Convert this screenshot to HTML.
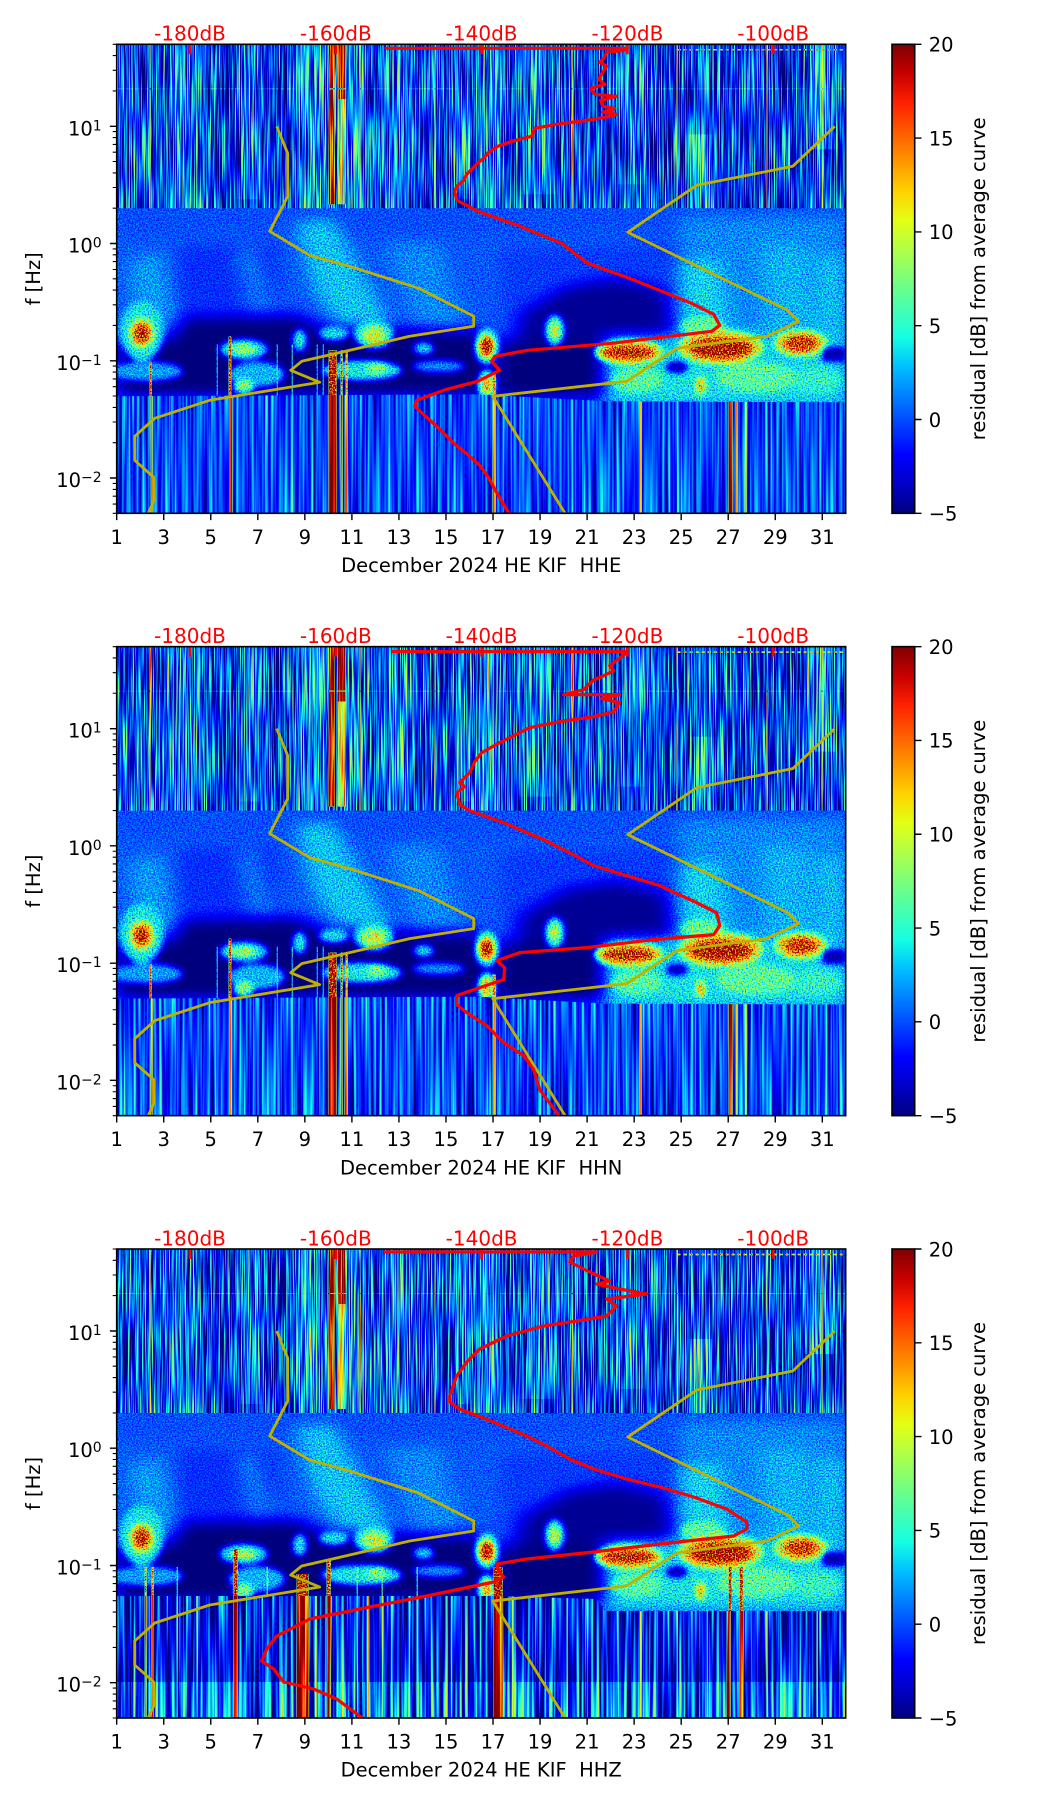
<!DOCTYPE html>
<html><head><meta charset="utf-8"><style>
html,body{margin:0;padding:0;background:#fff;}
svg{display:block;}
text{font-family:"DejaVu Sans","Liberation Sans",sans-serif;font-size:19.5px;fill:#000;}
</style></head><body>
<svg width="1052" height="1806" viewBox="0 0 1052 1806" xmlns="http://www.w3.org/2000/svg">
<defs>
<linearGradient id="jetG" x1="0" y1="0" x2="0" y2="1">
<stop offset="0" stop-color="rgb(128,0,0)"/><stop offset="0.0625" stop-color="rgb(199,0,0)"/>
<stop offset="0.125" stop-color="rgb(255,33,0)"/><stop offset="0.1875" stop-color="rgb(255,92,0)"/>
<stop offset="0.25" stop-color="rgb(255,150,0)"/><stop offset="0.3125" stop-color="rgb(255,209,0)"/>
<stop offset="0.375" stop-color="rgb(227,255,20)"/><stop offset="0.4375" stop-color="rgb(176,255,71)"/>
<stop offset="0.5" stop-color="rgb(122,255,122)"/><stop offset="0.5625" stop-color="rgb(71,255,176)"/>
<stop offset="0.625" stop-color="rgb(20,255,227)"/><stop offset="0.6875" stop-color="rgb(0,191,255)"/>
<stop offset="0.75" stop-color="rgb(0,128,255)"/><stop offset="0.8125" stop-color="rgb(0,64,255)"/>
<stop offset="0.875" stop-color="rgb(0,0,255)"/><stop offset="0.9375" stop-color="rgb(0,0,199)"/>
<stop offset="1" stop-color="rgb(0,0,128)"/>
</linearGradient>

<filter id="bl" filterUnits="userSpaceOnUse" x="-30" y="100" width="790" height="400" color-interpolation-filters="sRGB"><feGaussianBlur stdDeviation="3"/></filter>
<filter id="blBig" filterUnits="userSpaceOnUse" x="-30" y="100" width="790" height="400" color-interpolation-filters="sRGB"><feGaussianBlur stdDeviation="9 7"/></filter>
<filter id="blTop" filterUnits="userSpaceOnUse" x="-30" y="-30" width="790" height="260" color-interpolation-filters="sRGB"><feGaussianBlur stdDeviation="4 0"/></filter>

<filter id="fT1" filterUnits="userSpaceOnUse" x="0" y="0" width="729" height="470" color-interpolation-filters="sRGB">
<feTurbulence type="fractalNoise" baseFrequency="0.8 0.014" numOctaves="2" seed="2"/>
<feColorMatrix type="matrix" values="0 0 0 1 0 0 0 0 1 0 0 0 0 1 0 0 0 0 0 1" result="g"/>
<feComposite in="SourceGraphic" in2="g" operator="arithmetic" k1="0" k2="1" k3="1.35" k4="-0.675"/>
<feComponentTransfer><feFuncR type="table" tableValues="0 0 0 0 0 0 0.08 0.28 0.48 0.69 0.89 1 1 1 1 0.78 0.5"/><feFuncG type="table" tableValues="0 0 0 0.25 0.5 0.75 1 1 1 1 1 0.82 0.59 0.36 0.13 0 0"/><feFuncB type="table" tableValues="0.5 0.78 1 1 1 1 0.89 0.69 0.48 0.28 0.08 0 0 0 0 0 0"/></feComponentTransfer>
</filter>
<filter id="fT2" filterUnits="userSpaceOnUse" x="0" y="0" width="729" height="470" color-interpolation-filters="sRGB">
<feTurbulence type="fractalNoise" baseFrequency="0.8 0.014" numOctaves="2" seed="7"/>
<feColorMatrix type="matrix" values="0 0 0 1 0 0 0 0 1 0 0 0 0 1 0 0 0 0 0 1" result="g"/>
<feComposite in="SourceGraphic" in2="g" operator="arithmetic" k1="0" k2="1" k3="1.35" k4="-0.675"/>
<feComponentTransfer><feFuncR type="table" tableValues="0 0 0 0 0 0 0.08 0.28 0.48 0.69 0.89 1 1 1 1 0.78 0.5"/><feFuncG type="table" tableValues="0 0 0 0.25 0.5 0.75 1 1 1 1 1 0.82 0.59 0.36 0.13 0 0"/><feFuncB type="table" tableValues="0.5 0.78 1 1 1 1 0.89 0.69 0.48 0.28 0.08 0 0 0 0 0 0"/></feComponentTransfer>
</filter>
<filter id="fT3" filterUnits="userSpaceOnUse" x="0" y="0" width="729" height="470" color-interpolation-filters="sRGB">
<feTurbulence type="fractalNoise" baseFrequency="0.8 0.014" numOctaves="2" seed="13"/>
<feColorMatrix type="matrix" values="0 0 0 1 0 0 0 0 1 0 0 0 0 1 0 0 0 0 0 1" result="g"/>
<feComposite in="SourceGraphic" in2="g" operator="arithmetic" k1="0" k2="1" k3="1.35" k4="-0.675"/>
<feComponentTransfer><feFuncR type="table" tableValues="0 0 0 0 0 0 0.08 0.28 0.48 0.69 0.89 1 1 1 1 0.78 0.5"/><feFuncG type="table" tableValues="0 0 0 0.25 0.5 0.75 1 1 1 1 1 0.82 0.59 0.36 0.13 0 0"/><feFuncB type="table" tableValues="0.5 0.78 1 1 1 1 0.89 0.69 0.48 0.28 0.08 0 0 0 0 0 0"/></feComponentTransfer>
</filter>

<filter id="fM1" filterUnits="userSpaceOnUse" x="0" y="0" width="729" height="470" color-interpolation-filters="sRGB">
<feTurbulence type="fractalNoise" baseFrequency="0.7" numOctaves="2" seed="3"/>
<feColorMatrix type="matrix" values="0 0 0 1 0 0 0 0 1 0 0 0 0 1 0 0 0 0 0 1" result="g"/>
<feComposite in="SourceGraphic" in2="g" operator="arithmetic" k1="1.6" k2="0.2" k3="0" k4="0"/>
<feComponentTransfer><feFuncR type="table" tableValues="0 0 0 0 0 0 0.08 0.28 0.48 0.69 0.89 1 1 1 1 0.78 0.5"/><feFuncG type="table" tableValues="0 0 0 0.25 0.5 0.75 1 1 1 1 1 0.82 0.59 0.36 0.13 0 0"/><feFuncB type="table" tableValues="0.5 0.78 1 1 1 1 0.89 0.69 0.48 0.28 0.08 0 0 0 0 0 0"/></feComponentTransfer>
</filter>
<filter id="fM2" filterUnits="userSpaceOnUse" x="0" y="0" width="729" height="470" color-interpolation-filters="sRGB">
<feTurbulence type="fractalNoise" baseFrequency="0.7" numOctaves="2" seed="9"/>
<feColorMatrix type="matrix" values="0 0 0 1 0 0 0 0 1 0 0 0 0 1 0 0 0 0 0 1" result="g"/>
<feComposite in="SourceGraphic" in2="g" operator="arithmetic" k1="1.6" k2="0.2" k3="0" k4="0"/>
<feComponentTransfer><feFuncR type="table" tableValues="0 0 0 0 0 0 0.08 0.28 0.48 0.69 0.89 1 1 1 1 0.78 0.5"/><feFuncG type="table" tableValues="0 0 0 0.25 0.5 0.75 1 1 1 1 1 0.82 0.59 0.36 0.13 0 0"/><feFuncB type="table" tableValues="0.5 0.78 1 1 1 1 0.89 0.69 0.48 0.28 0.08 0 0 0 0 0 0"/></feComponentTransfer>
</filter>
<filter id="fM3" filterUnits="userSpaceOnUse" x="0" y="0" width="729" height="470" color-interpolation-filters="sRGB">
<feTurbulence type="fractalNoise" baseFrequency="0.7" numOctaves="2" seed="15"/>
<feColorMatrix type="matrix" values="0 0 0 1 0 0 0 0 1 0 0 0 0 1 0 0 0 0 0 1" result="g"/>
<feComposite in="SourceGraphic" in2="g" operator="arithmetic" k1="1.6" k2="0.2" k3="0" k4="0"/>
<feComponentTransfer><feFuncR type="table" tableValues="0 0 0 0 0 0 0.08 0.28 0.48 0.69 0.89 1 1 1 1 0.78 0.5"/><feFuncG type="table" tableValues="0 0 0 0.25 0.5 0.75 1 1 1 1 1 0.82 0.59 0.36 0.13 0 0"/><feFuncB type="table" tableValues="0.5 0.78 1 1 1 1 0.89 0.69 0.48 0.28 0.08 0 0 0 0 0 0"/></feComponentTransfer>
</filter>

<filter id="fL1" filterUnits="userSpaceOnUse" x="0" y="0" width="729" height="470" color-interpolation-filters="sRGB">
<feTurbulence type="fractalNoise" baseFrequency="0.35 0.005" numOctaves="2" seed="4"/>
<feColorMatrix type="matrix" values="0 0 0 1 0 0 0 0 1 0 0 0 0 1 0 0 0 0 0 1" result="g"/>
<feComposite in="SourceGraphic" in2="g" operator="arithmetic" k1="0" k2="1" k3="0.7" k4="-0.35"/>
<feComponentTransfer><feFuncR type="table" tableValues="0 0 0 0 0 0 0.08 0.28 0.48 0.69 0.89 1 1 1 1 0.78 0.5"/><feFuncG type="table" tableValues="0 0 0 0.25 0.5 0.75 1 1 1 1 1 0.82 0.59 0.36 0.13 0 0"/><feFuncB type="table" tableValues="0.5 0.78 1 1 1 1 0.89 0.69 0.48 0.28 0.08 0 0 0 0 0 0"/></feComponentTransfer>
</filter>
<filter id="fL2" filterUnits="userSpaceOnUse" x="0" y="0" width="729" height="470" color-interpolation-filters="sRGB">
<feTurbulence type="fractalNoise" baseFrequency="0.35 0.005" numOctaves="2" seed="11"/>
<feColorMatrix type="matrix" values="0 0 0 1 0 0 0 0 1 0 0 0 0 1 0 0 0 0 0 1" result="g"/>
<feComposite in="SourceGraphic" in2="g" operator="arithmetic" k1="0" k2="1" k3="0.8" k4="-0.4"/>
<feComponentTransfer><feFuncR type="table" tableValues="0 0 0 0 0 0 0.08 0.28 0.48 0.69 0.89 1 1 1 1 0.78 0.5"/><feFuncG type="table" tableValues="0 0 0 0.25 0.5 0.75 1 1 1 1 1 0.82 0.59 0.36 0.13 0 0"/><feFuncB type="table" tableValues="0.5 0.78 1 1 1 1 0.89 0.69 0.48 0.28 0.08 0 0 0 0 0 0"/></feComponentTransfer>
</filter>
<filter id="fL3" filterUnits="userSpaceOnUse" x="0" y="0" width="729" height="470" color-interpolation-filters="sRGB">
<feTurbulence type="fractalNoise" baseFrequency="0.35 0.005" numOctaves="2" seed="17"/>
<feColorMatrix type="matrix" values="0 0 0 1 0 0 0 0 1 0 0 0 0 1 0 0 0 0 0 1" result="g"/>
<feComposite in="SourceGraphic" in2="g" operator="arithmetic" k1="0" k2="1" k3="1.3" k4="-0.65"/>
<feComponentTransfer><feFuncR type="table" tableValues="0 0 0 0 0 0 0.08 0.28 0.48 0.69 0.89 1 1 1 1 0.78 0.5"/><feFuncG type="table" tableValues="0 0 0 0.25 0.5 0.75 1 1 1 1 1 0.82 0.59 0.36 0.13 0 0"/><feFuncB type="table" tableValues="0.5 0.78 1 1 1 1 0.89 0.69 0.48 0.28 0.08 0 0 0 0 0 0"/></feComponentTransfer>
</filter>

<clipPath id="cT" clipPathUnits="userSpaceOnUse"><rect x="0" y="0" width="729" height="164"/></clipPath>
<clipPath id="cM" clipPathUnits="userSpaceOnUse"><rect x="0" y="150" width="729" height="319"/></clipPath>
<clipPath id="cL" clipPathUnits="userSpaceOnUse"><polygon points="0,352 360,350 488,357 729,358 729,469 0,469"/></clipPath>
<clipPath id="cL3" clipPathUnits="userSpaceOnUse"><polygon points="0,347 380,347 480,350 488,362 729,362 729,469 0,469"/></clipPath>
<clipPath id="cP" clipPathUnits="userSpaceOnUse"><rect x="0" y="0" width="729" height="469"/></clipPath>

<g id="topCols">
<rect x="0" y="0" width="50" height="170" fill="#2e2e2e"/>
<rect x="53" y="0" width="34" height="165" fill="#3d3d3d"/>
<rect x="93" y="0" width="27" height="165" fill="#1f1f1f"/>
<rect x="123" y="0" width="20" height="155" fill="#3d3d3d"/>
<rect x="150" y="0" width="23" height="165" fill="#212121"/>
<rect x="180" y="0" width="27" height="165" fill="#4a4a4a"/>
<rect x="227" y="0" width="20" height="165" fill="#454545"/>
<rect x="270" y="0" width="23" height="165" fill="#424242"/>
<rect x="300" y="0" width="30" height="165" fill="#242424"/>
<rect x="340" y="0" width="13" height="155" fill="#454545"/>
<rect x="361" y="0" width="20" height="165" fill="#4a4a4a"/>
<rect x="404" y="0" width="34" height="150" fill="#3d3d3d"/>
<rect x="501" y="0" width="27" height="140" fill="#3b3b3b"/>
<rect x="545" y="0" width="25" height="165" fill="#212121"/>
<rect x="574" y="0" width="20" height="90" fill="#333"/>
<rect x="574" y="90" width="20" height="75" fill="#525252"/>
<rect x="600" y="0" width="90" height="165" fill="#262626"/>
<rect x="691" y="0" width="27" height="105" fill="#4a4a4a"/>
</g>
<g id="topS">
<rect x="0" y="0" width="729" height="170" fill="#2b2b2b"/>
<use href="#topCols" filter="url(#blTop)"/>
<rect x="212" y="0" width="6" height="160" fill="#eeeeee"/>
<rect x="221" y="0" width="8" height="55" fill="#f2f2f2"/>
<rect x="221" y="55" width="8" height="105" fill="#999"/>
<g fill="#bfbfbf"><rect x="33" y="0" width="1" height="165"/><rect x="243" y="0" width="1" height="165"/><rect x="318" y="0" width="1" height="165"/><rect x="455" y="0" width="1" height="165"/><rect x="560" y="0" width="1" height="165"/><rect x="650" y="0" width="1" height="165"/><rect x="705" y="0" width="1" height="165"/></g>
<rect x="0" y="44" width="729" height="1" fill="#444"/>
<line x1="561" y1="5.5" x2="729" y2="5.5" stroke="#b3b3b3" stroke-width="1.5" stroke-dasharray="3 3"/>
</g>

<g id="midBig">
<rect x="0" y="150" width="729" height="40" fill="#333"/>
<rect x="62" y="200" width="100" height="75" fill="#2b2b2b"/>
<polygon points="12,215 45,208 60,278 18,288" fill="#474747"/>
<polygon points="118,205 140,203 160,272 133,274" fill="#3d3d3d"/>
<polygon points="178,178 216,175 275,282 238,298 198,248" fill="#525252"/>
<polygon points="268,200 322,198 348,282 300,286" fill="#424242"/>
<polygon points="385,205 560,200 580,262 560,300 385,300" fill="#2e2e2e"/>
<polygon points="400,296 405,268 450,242 500,234 549,246 556,296" fill="#050505"/>
<polygon points="562,172 729,172 729,290 562,296" fill="#424242"/>
<polygon points="562,218 602,214 612,292 566,296" fill="#575757"/>
<polygon points="645,200 690,200 702,286 650,286" fill="#4d4d4d"/>
<polygon points="702,210 729,210 729,286 706,286" fill="#525252"/>
<polygon points="0,296 55,294 66,273 180,270 205,283 370,286 378,352 0,352" fill="#000"/>
<rect x="380" y="296" width="108" height="58" fill="#000"/>
<rect x="488" y="316" width="241" height="44" fill="#5c5c5c"/>
<polygon points="488,292 729,286 729,318 488,318" fill="#555"/>
</g>

<g id="midSmall">
<ellipse cx="586" cy="282" rx="22" ry="10" fill="#737373"/>
<ellipse cx="30" cy="327" rx="36" ry="10" fill="#474747"/>
<ellipse cx="140" cy="330" rx="28" ry="13" fill="#4d4d4d"/>
<ellipse cx="245" cy="326" rx="40" ry="10" fill="#5c5c5c"/>
<ellipse cx="260" cy="324" rx="10" ry="6" fill="#808080"/>
<ellipse cx="127" cy="342" rx="10" ry="7" fill="#808080"/>
<ellipse cx="322" cy="322" rx="26" ry="6" fill="#424242"/>
<ellipse cx="25" cy="287" rx="22" ry="30" fill="#5c5c5c"/>
<ellipse cx="25" cy="289" rx="12" ry="15" fill="#a6a6a6"/>
<ellipse cx="25" cy="289" rx="7" ry="9" fill="#f2f2f2"/>
<ellipse cx="127" cy="305" rx="24" ry="10" fill="#595959"/>
<ellipse cx="127" cy="305" rx="12" ry="5" fill="#8c8c8c"/>
<ellipse cx="183" cy="296" rx="7" ry="11" fill="#5c5c5c"/>
<ellipse cx="217" cy="289" rx="15" ry="7" fill="#595959"/>
<ellipse cx="257" cy="290" rx="20" ry="14" fill="#616161"/>
<ellipse cx="257" cy="291" rx="11" ry="8" fill="#999"/>
<ellipse cx="307" cy="304" rx="10" ry="6" fill="#555"/>
<ellipse cx="520" cy="336" rx="25" ry="12" fill="#737373"/>
<ellipse cx="640" cy="333" rx="40" ry="15" fill="#737373"/>
<ellipse cx="700" cy="336" rx="25" ry="12" fill="#666"/>
<ellipse cx="560" cy="323" rx="11" ry="6" fill="#0d0d0d"/>
<ellipse cx="584" cy="342" rx="4" ry="9" fill="#bfbfbf"/>
<ellipse cx="512" cy="308" rx="34" ry="12" fill="#a6a6a6"/>
<ellipse cx="512" cy="308" rx="26" ry="6" fill="#f2f2f2"/>
<ellipse cx="604" cy="303" rx="42" ry="17" fill="#a6a6a6"/>
<ellipse cx="604" cy="304" rx="31" ry="10" fill="#f7f7f7"/>
<ellipse cx="684" cy="299" rx="26" ry="13" fill="#a6a6a6"/>
<ellipse cx="684" cy="299" rx="16" ry="8" fill="#e6e6e6"/>
<rect x="706" y="303" width="23" height="14" fill="#0a0a0a"/>
<ellipse cx="370" cy="302" rx="12" ry="18" fill="#6b6b6b"/>
<ellipse cx="370" cy="302" rx="7" ry="10" fill="#f7f7f7"/>
<ellipse cx="370" cy="340" rx="9" ry="14" fill="#808080"/>
<ellipse cx="370" cy="342" rx="4" ry="8" fill="#bfbfbf"/>
<ellipse cx="438" cy="286" rx="10" ry="16" fill="#5c5c5c"/>
<ellipse cx="438" cy="286" rx="5" ry="9" fill="#999"/>
</g>

<g id="midLines">
<rect x="33" y="318" width="2" height="40" fill="#d9d9d9"/>
<rect x="112" y="292" width="2.5" height="66" fill="#d9d9d9"/>
<rect x="212" y="306" width="8" height="52" fill="#f2f2f2"/>
<rect x="224" y="306" width="2" height="52" fill="#ccc"/>
<rect x="229" y="306" width="2" height="52" fill="#b3b3b3"/>
<rect x="376" y="328" width="3" height="30" fill="#bfbfbf"/>
<g fill="#6b6b6b"><rect x="100" y="300" width="1" height="55"/><rect x="160" y="300" width="1" height="55"/><rect x="175" y="300" width="1" height="55"/><rect x="200" y="300" width="1" height="55"/><rect x="206" y="300" width="1" height="55"/></g>
</g>

<g id="midLines3">
<rect x="28" y="318" width="2" height="40" fill="#b3b3b3"/>
<rect x="35" y="318" width="2" height="40" fill="#ccc"/>
<rect x="117" y="300" width="4" height="58" fill="#e6e6e6"/>
<rect x="180" y="325" width="12" height="33" fill="#eeeeee"/>
<rect x="210" y="310" width="4" height="48" fill="#d9d9d9"/>
<rect x="377" y="318" width="9" height="40" fill="#f2f2f2"/>
<rect x="612" y="318" width="3" height="44" fill="#e6e6e6"/>
<rect x="623" y="318" width="3" height="44" fill="#e6e6e6"/>
<g fill="#808080"><rect x="60" y="318" width="1" height="40"/><rect x="150" y="318" width="1" height="40"/><rect x="240" y="318" width="1" height="40"/><rect x="265" y="318" width="1" height="40"/><rect x="300" y="318" width="1" height="40"/></g>
</g>

<g id="lowA">
<rect x="0" y="340" width="729" height="130" fill="#303030"/>
<rect x="34" y="340" width="2" height="130" fill="#d9d9d9"/>
<rect x="113" y="340" width="2.5" height="130" fill="#d9d9d9"/>
<rect x="212" y="340" width="8" height="130" fill="#f2f2f2"/>
<rect x="224" y="340" width="2" height="130" fill="#ccc"/>
<rect x="228" y="340" width="3" height="130" fill="#b3b3b3"/>
<rect x="376" y="340" width="3" height="130" fill="#bfbfbf"/>
<rect x="523" y="340" width="2" height="130" fill="#b3b3b3"/>
<rect x="612" y="340" width="4" height="130" fill="#eeeeee"/>
<rect x="619" y="340" width="2" height="130" fill="#b3b3b3"/>
<rect x="628" y="340" width="2" height="130" fill="#a6a6a6"/>
<g fill="#4d4d4d"><rect x="7" y="340" width="1" height="130"/><rect x="52" y="340" width="1" height="130"/><rect x="98" y="340" width="1" height="130"/><rect x="136" y="340" width="1" height="130"/><rect x="150" y="340" width="1" height="130"/><rect x="160" y="340" width="1" height="130"/><rect x="175" y="340" width="1" height="130"/><rect x="200" y="340" width="1" height="130"/><rect x="283" y="340" width="1" height="130"/><rect x="290" y="340" width="1" height="130"/><rect x="403" y="340" width="1" height="130"/><rect x="423" y="340" width="1" height="130"/><rect x="451" y="340" width="1" height="130"/><rect x="484" y="340" width="1" height="130"/><rect x="500" y="340" width="1" height="130"/><rect x="560" y="340" width="1" height="130"/><rect x="580" y="340" width="1" height="130"/><rect x="650" y="340" width="1" height="130"/><rect x="700" y="340" width="1" height="130"/><rect x="725" y="340" width="1" height="130"/></g>
</g>

<g id="lowC">
<rect x="0" y="330" width="729" height="140" fill="#1f1f1f"/>
<rect x="0" y="433" width="729" height="37" fill="#3b3b3b"/>
<rect x="28" y="330" width="2" height="140" fill="#b3b3b3"/>
<rect x="35" y="330" width="2" height="140" fill="#ccc"/>
<rect x="117" y="330" width="4" height="140" fill="#e6e6e6"/>
<rect x="180" y="330" width="12" height="140" fill="#eeeeee"/>
<rect x="198" y="330" width="2" height="140" fill="#b3b3b3"/>
<rect x="210" y="330" width="4" height="140" fill="#d9d9d9"/>
<rect x="225" y="330" width="2" height="140" fill="#b3b3b3"/>
<rect x="250" y="330" width="2" height="140" fill="#a6a6a6"/>
<rect x="377" y="330" width="9" height="140" fill="#f2f2f2"/>
<rect x="395" y="330" width="2" height="140" fill="#999"/>
<rect x="523" y="330" width="2" height="140" fill="#b3b3b3"/>
<rect x="610" y="330" width="4" height="140" fill="#e6e6e6"/>
<rect x="623" y="330" width="4" height="140" fill="#e6e6e6"/>
<g fill="#7a7a7a"><rect x="60" y="330" width="1" height="140"/><rect x="80" y="330" width="1" height="140"/><rect x="150" y="330" width="1" height="140"/><rect x="165" y="330" width="1" height="140"/><rect x="240" y="330" width="1" height="140"/><rect x="265" y="330" width="1" height="140"/><rect x="300" y="330" width="1" height="140"/><rect x="330" y="330" width="1" height="140"/><rect x="350" y="330" width="1" height="140"/><rect x="420" y="330" width="1" height="140"/><rect x="450" y="330" width="1" height="140"/><rect x="470" y="330" width="1" height="140"/><rect x="540" y="330" width="1" height="140"/><rect x="560" y="330" width="1" height="140"/><rect x="575" y="330" width="1" height="140"/><rect x="590" y="330" width="1" height="140"/><rect x="650" y="330" width="1" height="140"/><rect x="680" y="330" width="1" height="140"/><rect x="700" y="330" width="1" height="140"/></g>
</g>

<g id="gold" fill="none" stroke="#c0b000" stroke-width="2.8" stroke-linejoin="round">
<polyline points="160,82 171,109 171,152 153,187 193,211 233,222 302,244 357,272 357,282 293,292 220,309 185,317 174,326 203,338 93,356 38,374 18,392 18,416 37,433 37,457 31,470"/>
<polyline points="718,82 676,122 580,141 511,188 671,266 682,277 650,292 560,304 510,337 376,352 449,470"/>
</g>

<g id="axes">
<rect x="0" y="0" width="729" height="469" fill="none" stroke="#000" stroke-width="1.6"/>
<path d="M-6.8,82H0M-6.8,199.2H0M-6.8,316.5H0M-6.8,433.7H0" stroke="#000" stroke-width="1.4"/>
<path d="M-4,0H0M-4,11.3H0M-4,26H0M-4,46.6H0M-4,87.3H0M-4,93.3H0M-4,100.1H0M-4,107.9H0M-4,117.2H0M-4,128.6H0M-4,143.2H0M-4,163.9H0M-4,204.6H0M-4,210.5H0M-4,217.3H0M-4,225.2H0M-4,234.5H0M-4,245.8H0M-4,260.5H0M-4,281.1H0M-4,321.8H0M-4,327.8H0M-4,334.6H0M-4,342.4H0M-4,351.7H0M-4,363.1H0M-4,377.7H0M-4,398.4H0M-4,439.1H0M-4,445.1H0M-4,451.9H0M-4,459.8H0M-4,469H0" stroke="#000" stroke-width="1.1"/>
<path d="M0,469v6.8M47.04,469v6.8M94.08,469v6.8M141.12,469v6.8M188.16,469v6.8M235.2,469v6.8M282.24,469v6.8M329.28,469v6.8M376.32,469v6.8M423.36,469v6.8M470.4,469v6.8M517.44,469v6.8M564.48,469v6.8M611.52,469v6.8M658.56,469v6.8M705.6,469v6.8" stroke="#000" stroke-width="1.4"/>
<path d="M73.3,1v9M219.1,1v9M364.9,1v9M510.7,1v9M656.5,1v9" stroke="#ff0000" stroke-width="2.6"/>
<g text-anchor="end">
<text x="-15" y="91">10<tspan font-size="14" dy="-5">1</tspan></text>
<text x="-15" y="208.2">10<tspan font-size="14" dy="-5">0</tspan></text>
<text x="-15" y="325.5">10<tspan font-size="14" dy="-5">−1</tspan></text>
<text x="-15" y="442.7">10<tspan font-size="14" dy="-5">−2</tspan></text>
</g>
<g text-anchor="middle">
<text x="0" y="499.5">1</text><text x="47.04" y="499.5">3</text><text x="94.08" y="499.5">5</text><text x="141.12" y="499.5">7</text><text x="188.16" y="499.5">9</text><text x="235.2" y="499.5">11</text><text x="282.24" y="499.5">13</text><text x="329.28" y="499.5">15</text><text x="376.32" y="499.5">17</text><text x="423.36" y="499.5">19</text><text x="470.4" y="499.5">21</text><text x="517.44" y="499.5">23</text><text x="564.48" y="499.5">25</text><text x="611.52" y="499.5">27</text><text x="658.56" y="499.5">29</text><text x="705.6" y="499.5">31</text>
</g>
<g text-anchor="middle">
<text x="73.3" y="-3.6" style="fill:#ff0000;font-size:20px">-180dB</text><text x="219.1" y="-3.6" style="fill:#ff0000;font-size:20px">-160dB</text><text x="364.9" y="-3.6" style="fill:#ff0000;font-size:20px">-140dB</text><text x="510.7" y="-3.6" style="fill:#ff0000;font-size:20px">-120dB</text><text x="656.5" y="-3.6" style="fill:#ff0000;font-size:20px">-100dB</text>
</g>
<text transform="translate(-76.7,234.5) rotate(-90)" text-anchor="middle">f [Hz]</text>
<rect x="775.3" y="0" width="22.7" height="469" fill="url(#jetG)" stroke="#000" stroke-width="1.6"/>
<path d="M798,0h6.8M798,93.8h6.8M798,187.6h6.8M798,281.4h6.8M798,375.2h6.8M798,469h6.8" stroke="#000" stroke-width="1.4"/>
<text x="812" y="7.3">20</text><text x="812" y="101.1">15</text><text x="812" y="194.9">10</text><text x="812" y="288.7">5</text><text x="812" y="382.5">0</text><text x="812" y="476.3">−5</text>
<text transform="translate(868.3,234.5) rotate(-90)" text-anchor="middle">residual [dB] from average curve</text>
</g>
</defs>

<rect x="0" y="0" width="1052" height="1806" fill="#fff"/>

<!-- Panel 1 -->
<g transform="translate(116.7,44.3)">
<g clip-path="url(#cM)" filter="url(#fM1)"><rect x="0" y="150" width="729" height="320" fill="#363636"/><use href="#midBig" filter="url(#blBig)"/><use href="#midSmall" filter="url(#bl)"/><use href="#midLines"/></g>
<g clip-path="url(#cL)" filter="url(#fL1)"><use href="#lowA"/></g>
<g clip-path="url(#cT)" filter="url(#fT1)"><use href="#topS"/></g>
<g clip-path="url(#cP)">
<use href="#gold"/>
<polyline fill="none" stroke="#ff0000" stroke-width="3.2" stroke-linejoin="round" points="268,4 508,4 508,6 490,8 487,14 483,18 490,22 486,28 482,35 488,40 474,44 478,50 500,52 484,56 486,62 498,64 486,68 500,70 494,72 470,76 440,80 418,84 415,92 395,97 381,102 372,108 367,114 362,118 356,124 350,130 347,136 340,142 338,147 340,156 350,161 361,167 401,181 445,199 471,219 518,236 575,259 597,270 603,281 595,287 495,299 411,306 378,312 375,317 383,326 361,337 330,345 300,356 298,362 320,382 337,399 353,412 363,421 371,432 381,450 391,467 393,470"/>
</g>
<use href="#axes"/>
<text x="364.5" y="527.7" text-anchor="middle" xml:space="preserve">December 2024 HE KIF  HHE</text>
</g>

<!-- Panel 2 -->
<g transform="translate(116.7,646.65)">
<g clip-path="url(#cM)" filter="url(#fM2)"><rect x="0" y="150" width="729" height="320" fill="#363636"/><use href="#midBig" filter="url(#blBig)"/><use href="#midSmall" filter="url(#bl)"/><use href="#midLines"/></g>
<g clip-path="url(#cL)" filter="url(#fL2)"><use href="#lowA"/></g>
<g clip-path="url(#cT)" filter="url(#fT2)"><use href="#topS"/></g>
<g clip-path="url(#cP)">
<use href="#gold"/>
<polyline fill="none" stroke="#ff0000" stroke-width="3.2" stroke-linejoin="round" points="275,5 510,5 510,6 493,19 497,24 485,30 477,33 467,43 447,48 503,48 485,52 503,56 497,65 477,70 443,75 413,81 383,96 365,106 358,115 353,126 343,136 348,140 340,146 343,158 353,164 387,176 427,193 453,206 477,219 510,229 543,239 580,256 600,266 603,279 597,288 537,293 470,301 403,306 380,314 388,321 387,333 363,341 340,349 340,358 350,366 370,379 387,396 407,409 417,423 423,443 440,466 443,470"/>
</g>
<use href="#axes"/>
<text x="364.5" y="527.7" text-anchor="middle" xml:space="preserve">December 2024 HE KIF  HHN</text>
</g>

<!-- Panel 3 -->
<g transform="translate(116.7,1249)">
<g clip-path="url(#cM)" filter="url(#fM3)"><rect x="0" y="150" width="729" height="320" fill="#363636"/><use href="#midBig" filter="url(#blBig)"/><use href="#midSmall" filter="url(#bl)"/><use href="#midLines3"/></g>
<g clip-path="url(#cL3)" filter="url(#fL3)"><use href="#lowC"/></g>
<g clip-path="url(#cT)" filter="url(#fT3)"><use href="#topS"/></g>
<g clip-path="url(#cP)">
<use href="#gold"/>
<polyline fill="none" stroke="#ff0000" stroke-width="3.2" stroke-linejoin="round" points="267,3 480,3 457,7 453,13 473,23 493,32 480,35 503,40 530,45 490,50 500,57 490,67 460,72 427,77 390,87 363,100 350,113 340,127 333,147 333,153 343,160 377,173 410,187 430,197 453,210 477,220 510,230 543,238 577,248 610,260 630,273 630,280 617,287 543,295 477,303 410,310 380,315 382,322 387,328 377,333 310,347 243,360 193,370 160,387 150,400 145,412 157,420 167,433 197,440 220,450 243,467 247,470"/>
</g>
<use href="#axes"/>
<text x="364.5" y="527.7" text-anchor="middle" xml:space="preserve">December 2024 HE KIF  HHZ</text>
</g>
</svg>
</body></html>
